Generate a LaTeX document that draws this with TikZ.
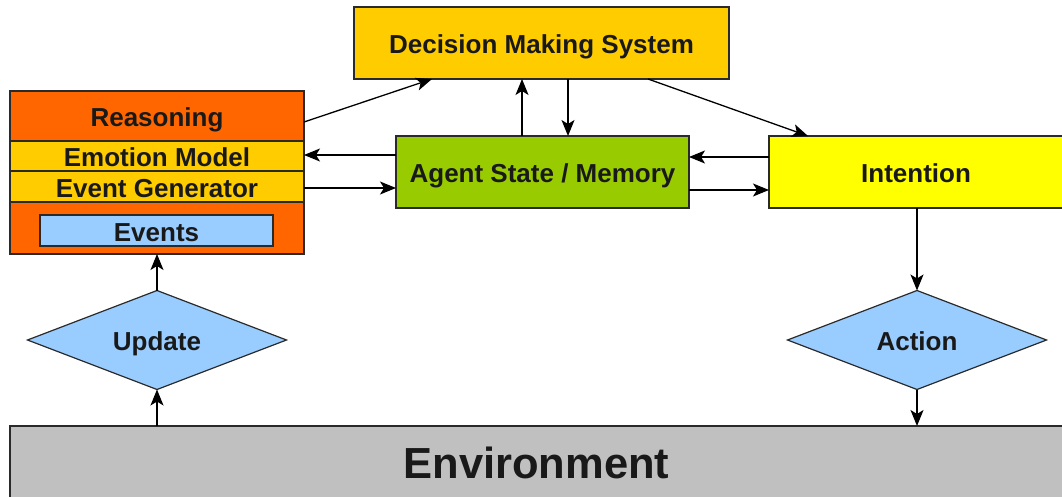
\documentclass[tikz,border=0pt]{standalone}
\usepackage{fontspec}
\setmainfont{Liberation Sans}
\usetikzlibrary{shapes.geometric,arrows.meta}

\definecolor{cOrange}{HTML}{FF6600}
\definecolor{cGold}{HTML}{FFCC00}
\definecolor{cGreen}{HTML}{99CC00}
\definecolor{cYellow}{HTML}{FFFF00}
\definecolor{cBlue}{HTML}{99CCFF}
\definecolor{cGray}{HTML}{C0C0C0}
\definecolor{cEdge}{HTML}{2A2A2A}

\tikzset{
  label font/.style={font=\fontsize{26}{31}\selectfont\bfseries, text=black!90,
    text height=21.5pt, text depth=0pt},
  box/.style={draw=cEdge, line width=1.2pt, rectangle, inner sep=0pt, outer sep=0pt,
    label font},
  choice/.style={draw=cEdge, line width=1.2pt, diamond, fill=cBlue, inner sep=0pt,
    outer sep=0pt, aspect=2.6, minimum width=259pt, minimum height=99pt, label font},
  arr/.style={draw=black, line width=1.3pt,
    -{Stealth[length=16pt,width=13pt,inset=4pt]}}
}

\begin{document}
\begin{tikzpicture}[x=1pt,y=-1pt]
\useasboundingbox (0,0) rectangle (1062,497);
\clip (0,0) rectangle (1062,497);

% reasoning stack
\node[box, fill=cOrange, minimum width=294pt, minimum height=50pt] (reas) at (157,116) {Reasoning};
\node[box, fill=cGold, minimum width=294pt, minimum height=30pt] (emo) at (157,156) {Emotion Model};
\node[box, fill=cGold, minimum width=294pt, minimum height=31pt] (evgen) at (157,186.5) {Event Generator};
\node[box, fill=cOrange, minimum width=294pt, minimum height=52pt] (base) at (157,228) {};
\node[box, fill=cBlue, minimum width=233pt, minimum height=31pt] (events) at (156.5,230.5) {Events};

% decision, state and intention
\node[box, fill=cGold, minimum width=375pt, minimum height=72pt] (dec) at (541.5,43) {Decision Making System};
\node[box, fill=cGreen, minimum width=293pt, minimum height=72pt] (agent) at (542.5,172) {Agent State / Memory};
\node[box, fill=cYellow, minimum width=294pt, minimum height=72pt] (intent) at (916,172) {Intention};

% update / action
\node[choice] (upd) at (157,340) {Update};
\node[choice] (act) at (917,340) {Action};

% environment
\node[box, fill=cGray, minimum width=1053pt, minimum height=74pt,
  font=\fontsize{43.5}{50}\selectfont\bfseries, text height=31pt] (env) at (536.5,463) {Environment};

% connectors
\draw[arr] (reas.east |- 0,122) -- (dec.south -| 432,0);
\draw[arr] (agent.west |- 0,155) -- (emo.east |- 0,155);
\draw[arr] (evgen.east |- 0,188) -- (agent.west |- 0,188);
\draw[arr] (agent.north -| 522,0) -- (dec.south -| 522,0);
\draw[arr] (dec.south -| 568,0) -- (agent.north -| 568,0);
\draw[arr] (dec.south -| 648,0) -- (intent.north -| 808,0);
\draw[arr] (intent.west |- 0,157) -- (agent.east |- 0,157);
\draw[arr] (agent.east |- 0,190) -- (intent.west |- 0,190);
\draw[arr] (intent.south -| act.north) -- (act.north);
\draw[arr] (act.south) -- (env.north -| act.south);
\draw[arr] (env.north -| upd.south) -- (upd.south);
\draw[arr] (upd.north) -- (base.south -| upd.north);
\end{tikzpicture}
\end{document}
